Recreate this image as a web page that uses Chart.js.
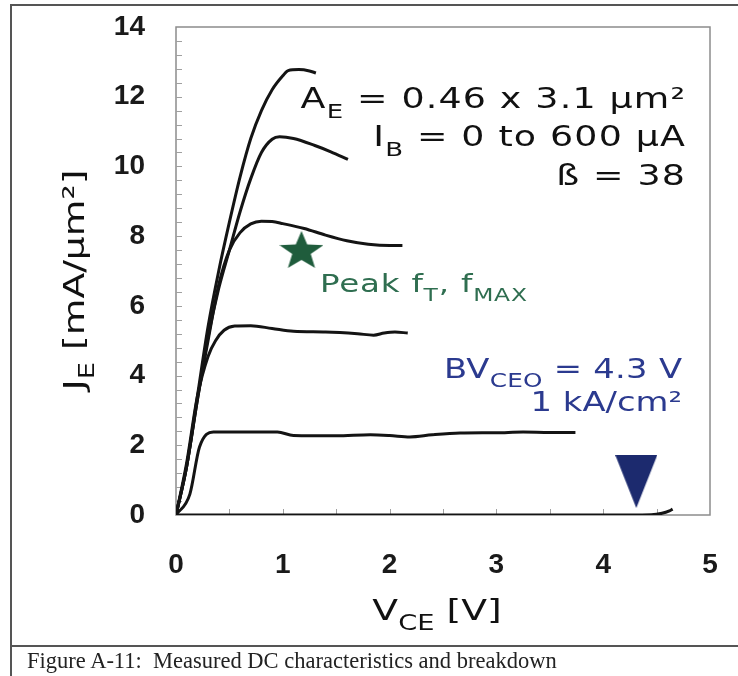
<!DOCTYPE html>
<html>
<head>
<meta charset="utf-8">
<script src="https://cdn.jsdelivr.net/npm/chart.js@4.4.1/dist/chart.umd.min.js"></script>
<style>
  body { margin: 0; background: #fff; }
  #wrap { position: relative; width: 738px; height: 676px; background: #fff; overflow: hidden; }
  #frame { position: absolute; left: 10px; top: 4px; right: -4px; bottom: -4px; border-left: 2px solid #555; border-top: 2px solid #555; }
  #plot { position: absolute; left: 0; top: 0; width: 738px; height: 646px; }
  #caption { position: absolute; left: 10px; top: 645px; right: 0; height: 40px; border-top: 2px solid #555; border-left: 2px solid #555;
    font: 22.5px "Liberation Serif", "Times New Roman", serif; color: #222; line-height: 28px; padding-left: 15px; white-space: nowrap; }
</style>
</head>
<body>
<div id="wrap">
  <div id="frame"></div>
  <div id="plot"><canvas id="chart" width="738" height="646"></canvas></div>
  <div id="caption">Figure A-11:&nbsp; Measured DC characteristics and breakdown</div>
</div>
<script>
// V_CE [V] / J_E [mA/um2] for each base-current step (top curve first)
const vce1 = [0, 0.1, 0.2, 0.3, 0.4, 0.5, 0.6, 0.7, 0.8, 0.9, 1.0, 1.05, 1.15, 1.25, 1.31];
const je1  = [0, 1.4, 3.4, 5.4, 7.0, 8.4, 9.7, 10.8, 11.6, 12.2, 12.6, 12.75, 12.78, 12.74, 12.68];

const vce2 = [0, 0.1, 0.2, 0.3, 0.4, 0.5, 0.6, 0.7, 0.8, 0.9, 0.97, 1.1, 1.3, 1.45, 1.61];
const je2  = [0, 1.4, 3.3, 5.1, 6.5, 7.6, 8.7, 9.65, 10.4, 10.78, 10.85, 10.8, 10.6, 10.42, 10.2];

const vce3 = [0, 0.1, 0.2, 0.3, 0.4, 0.5, 0.6, 0.7, 0.8, 0.9, 1.0, 1.2, 1.4, 1.6, 1.8, 2.0, 2.12];
const je3  = [0, 1.4, 3.3, 5.0, 6.6, 7.6, 8.1, 8.35, 8.43, 8.42, 8.36, 8.22, 8.03, 7.87, 7.77, 7.73, 7.73];

const vce4 = [0, 0.1, 0.2, 0.3, 0.37, 0.45, 0.55, 0.7, 0.9, 1.1, 1.4, 1.7, 1.85, 1.95, 2.05, 2.17];
const je4  = [0, 1.5, 3.4, 4.55, 5.0, 5.3, 5.42, 5.43, 5.35, 5.27, 5.25, 5.2, 5.16, 5.22, 5.25, 5.22];

const vce5 = [0, 0.13, 0.22, 0.35, 0.95, 1.1, 1.5, 1.82, 2.0, 2.19, 2.4, 2.66, 3.0, 3.25, 3.5, 3.74];
const je5  = [0, 0.6, 1.95, 2.38, 2.38, 2.28, 2.27, 2.3, 2.28, 2.24, 2.3, 2.35, 2.36, 2.38, 2.37, 2.37];

const vce6 = [0, 1, 2, 3, 4, 4.45, 4.55, 4.62, 4.65];
const je6  = [0, 0, 0, 0, 0, 0.01, 0.05, 0.12, 0.17];

// markers
const peakPoint = { x: 1.175, y: 7.62 };   // peak fT, fMAX
const bvPoint = { x: 4.31, y: 0.96 };      // BVCEO

const xTicks = [0, 1, 2, 3, 4, 5];
const yTicks = [0, 2, 4, 6, 8, 10, 12, 14];

const curveColor = '#141414';
const greenText = '#2f6e50';
const greenStar = '#1f5c3c';
const blueText = '#2b3a8f';
const blueTri = '#1c2a6e';
const verdana = '"DejaVu Sans", Verdana, sans-serif';
const stretch = 1.3; // the scanned lettering is wide

function toPts(xs, ys) {
  return xs.map((x, i) => ({ x: x, y: ys[i] }));
}

function makeStar(w, h, color) {
  const c = document.createElement('canvas');
  c.width = w; c.height = h;
  const g = c.getContext('2d');
  const R = w / (2 * Math.sin(72 * Math.PI / 180));
  const sy = h / (R + R * Math.cos(36 * Math.PI / 180));
  const cx = w / 2, cy = R * sy;
  g.fillStyle = color;
  g.beginPath();
  for (let i = 0; i < 10; i++) {
    const r = i % 2 === 0 ? R : R * 0.42;
    const a = -Math.PI / 2 + i * Math.PI / 5;
    const px = cx + r * Math.cos(a), py = cy + r * Math.sin(a) * sy;
    if (i === 0) g.moveTo(px, py); else g.lineTo(px, py);
  }
  g.closePath();
  g.fill();
  return c;
}

function makeTriangle(w, h, color) {
  const c = document.createElement('canvas');
  c.width = w; c.height = h;
  const g = c.getContext('2d');
  g.fillStyle = color;
  g.beginPath();
  g.moveTo(0, 0); g.lineTo(w, 0); g.lineTo(w / 2, h);
  g.closePath();
  g.fill();
  return c;
}

// text with sub parts: segs = [[text, 'n'|'sub'], ...]
function richText(ctx, segs, x, y, size, align, color, spacing) {
  ctx.save();
  ctx.fillStyle = color;
  ctx.textAlign = 'left';
  ctx.textBaseline = 'alphabetic';
  ctx.letterSpacing = (spacing || 0) + 'px';
  const fontOf = k => (k === 'sub' ? Math.round(size * 0.72) : size) + 'px ' + verdana;
  let w = 0;
  segs.forEach(s => { ctx.font = fontOf(s[1]); w += ctx.measureText(s[0]).width; });
  w -= spacing || 0;
  const tw = w * stretch;
  const x0 = align === 'right' ? x - tw : align === 'center' ? x - tw / 2 : x;
  ctx.translate(x0, y);
  ctx.scale(stretch, 1);
  let cx = 0;
  segs.forEach(s => {
    ctx.font = fontOf(s[1]);
    const dy = s[1] === 'sub' ? size * 0.36 : 0;
    ctx.fillText(s[0], cx, dy);
    cx += ctx.measureText(s[0]).width;
  });
  ctx.restore();
}

const frameAndText = {
  id: 'frameAndText',
  beforeDatasetsDraw(chart) {
    const ctx = chart.ctx;
    const a = chart.chartArea;
    const xs = chart.scales.x, ys = chart.scales.y;
    ctx.save();
    ctx.strokeStyle = '#8c8c8c';
    ctx.lineWidth = 1.5;
    ctx.strokeRect(a.left, a.top, a.right - a.left, a.bottom - a.top);
    ctx.lineWidth = 1;
    ctx.strokeStyle = '#a0a0a0';
    ctx.beginPath();
    for (let v = 0.4; v < 14; v += 0.4) {
      const py = Math.round(ys.getPixelForValue(v)) + 0.5;
      ctx.moveTo(a.left, py); ctx.lineTo(a.left + 6, py);
    }
    for (let v = 0.5; v < 5; v += 0.5) {
      const px = Math.round(xs.getPixelForValue(v)) + 0.5;
      ctx.moveTo(px, a.bottom); ctx.lineTo(px, a.bottom - 6);
    }
    ctx.stroke();
    ctx.restore();
  },
  afterDraw(chart) {
    const ctx = chart.ctx;
    // annotations
    richText(ctx, [['A', 'n'], ['E', 'sub'], [' = 0.46 x 3.1 µm²', 'n']], 685, 108, 28, 'right', '#111', 0.9);
    richText(ctx, [['I', 'n'], ['B', 'sub'], [' = 0 to 600 µA', 'n']], 685, 146, 28, 'right', '#111', 0.9);
    richText(ctx, [['ß = 38', 'n']], 685, 185, 28, 'right', '#111', 0.9);
    richText(ctx, [['Peak f', 'n'], ['T', 'sub'], [', f', 'n'], ['MAX', 'sub']], 320, 292, 25, 'left', greenText, 0.6);
    richText(ctx, [['BV', 'n'], ['CEO', 'sub'], [' = 4.3 V', 'n']], 682, 378, 26, 'right', blueText, 0.2);
    richText(ctx, [['1 kA/cm²', 'n']], 682, 411, 26, 'right', blueText, 0);
    // axis titles
    richText(ctx, [['V', 'n'], ['CE', 'sub'], [' [V]', 'n']], 437, 620, 29, 'center', '#111', 0);
    ctx.save();
    ctx.translate(84, 280);
    ctx.rotate(-Math.PI / 2);
    richText(ctx, [['J', 'n'], ['E', 'sub'], [' [mA/µm²]', 'n']], 0, 0, 29, 'center', '#111', 0);
    ctx.restore();
  }
};

const tickFont = { family: '"Liberation Sans", Arial, sans-serif', size: 28, weight: 'bold' };

new Chart(document.getElementById('chart'), {
  type: 'line',
  data: {
    datasets: [
      { data: toPts(vce1, je1) },
      { data: toPts(vce2, je2) },
      { data: toPts(vce3, je3) },
      { data: toPts(vce4, je4) },
      { data: toPts(vce5, je5) },
      { data: toPts(vce6, je6) },
      { type: 'scatter', data: [peakPoint], pointStyle: makeStar(44, 37, greenStar), pointRadius: 10, showLine: false },
      { type: 'scatter', data: [bvPoint], pointStyle: makeTriangle(42, 53, blueTri), pointRadius: 10, showLine: false }
    ].map(d => Object.assign({
      borderColor: curveColor,
      backgroundColor: curveColor,
      borderWidth: 3,
      pointRadius: 0,
      tension: 0.35,
      cubicInterpolationMode: 'monotone',
      fill: false
    }, d))
  },
  options: {
    responsive: false,
    animation: false,
    events: [],
    layout: { padding: { top: 27, right: 28, left: 0, bottom: 0 } },
    plugins: { legend: { display: false }, tooltip: { enabled: false } },
    scales: {
      x: {
        type: 'linear',
        min: 0, max: 5,
        afterFit: s => { s.height = 131; s.paddingLeft = 0; s.paddingRight = 10; },
        afterBuildTicks: s => { s.ticks = xTicks.map(v => ({ value: v })); },
        grid: { display: false, drawTicks: false },
        border: { display: false },
        ticks: { padding: 33, color: '#1a1a1a', font: tickFont }
      },
      y: {
        type: 'linear',
        min: 0, max: 14,
        afterFit: s => { s.width = 176; s.paddingTop = 16; s.paddingBottom = 16; },
        afterBuildTicks: s => { s.ticks = yTicks.map(v => ({ value: v })); },
        grid: { display: false, drawTicks: false },
        border: { display: false },
        ticks: { padding: 31, color: '#1a1a1a', font: tickFont }
      }
    }
  },
  plugins: [frameAndText]
});
</script>
</body>
</html>
